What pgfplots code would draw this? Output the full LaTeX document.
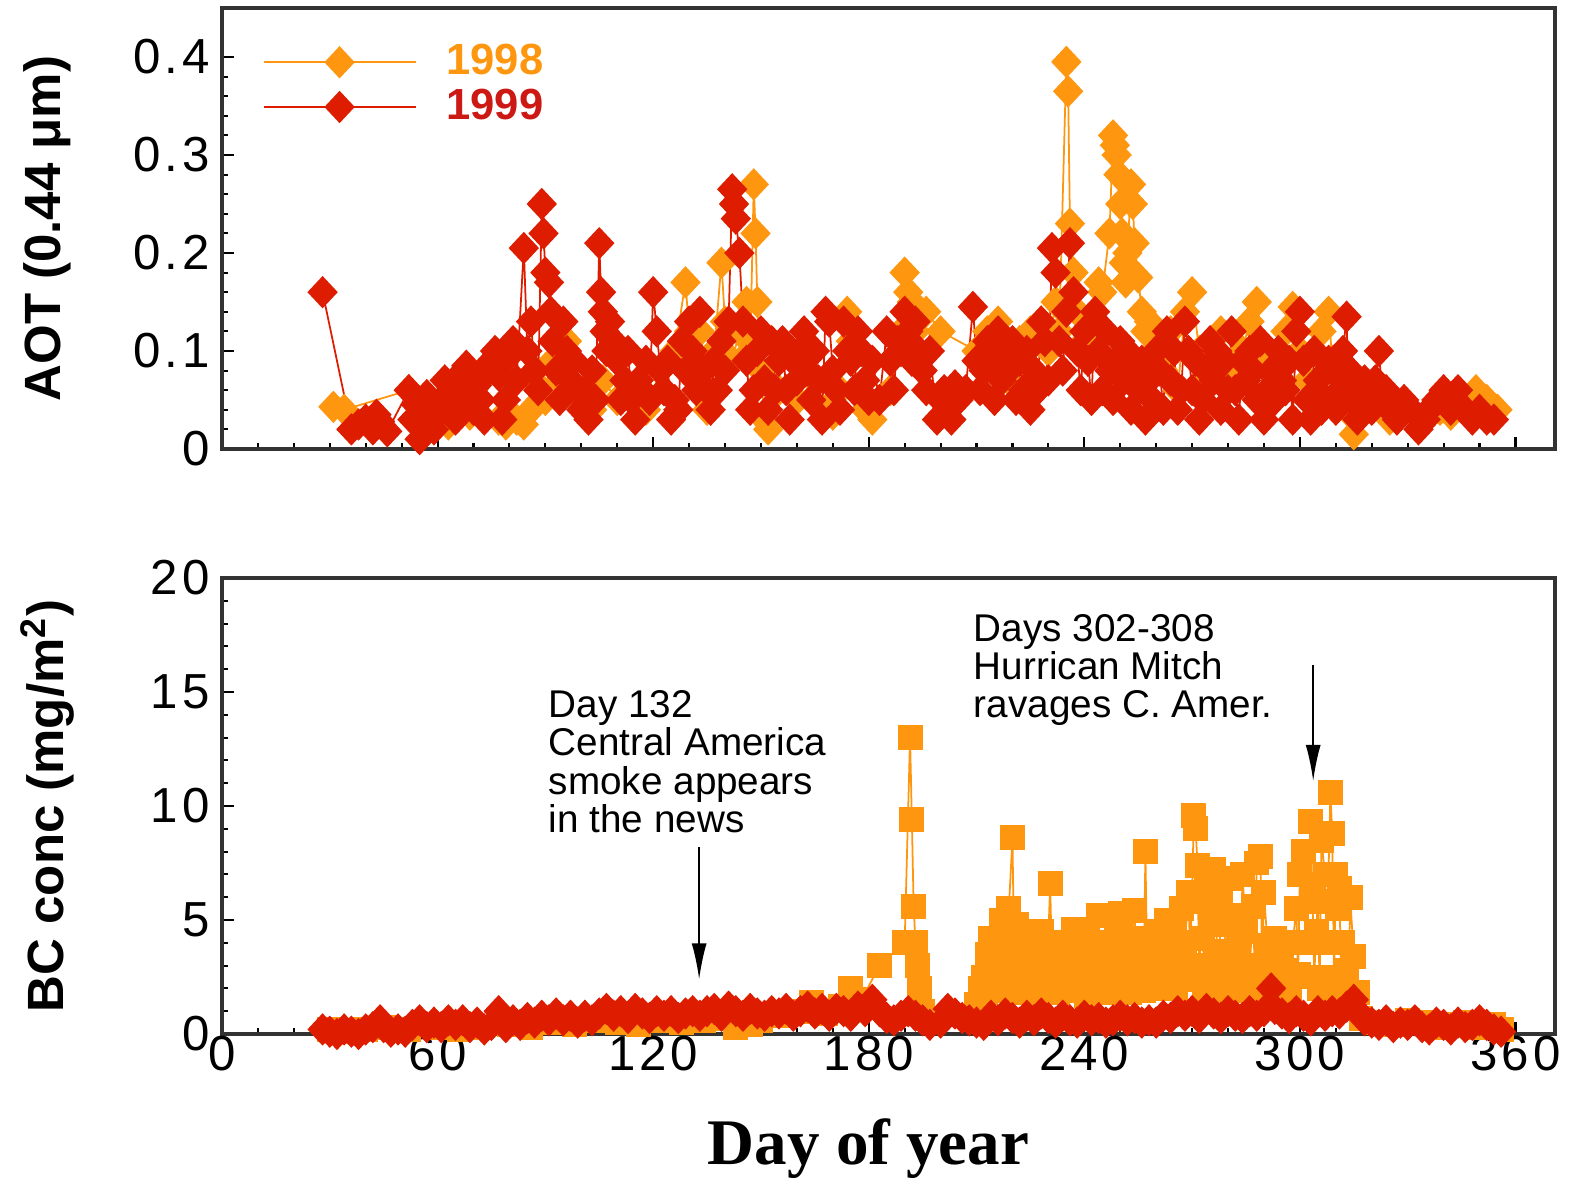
\documentclass[border=0pt]{standalone}
\usepackage{pgfplots}
\pgfplotsset{compat=1.18}
\usepackage{fontspec}
\setmainfont{Liberation Sans}
\newfontfamily\timesfont{Liberation Serif}
\newfontfamily\tickfont[LetterSpace=8]{Liberation Sans}
\usetikzlibrary{arrows.meta}
\definecolor{or98}{RGB}{255,150,15}
\definecolor{rd99}{RGB}{222,28,0}
\definecolor{rdtxt}{RGB}{205,25,20}
\pgfplotsset{
  myaxis/.style={
    scale only axis, width=13.33cm, xmin=0, xmax=371,
    xtick={0,60,120,180,240,300,360}, minor x tick num=5,
    tick pos=left, tick align=inside,
    major tick length=1.2mm, minor tick length=0.6mm,
    tick style={black, line width=0.6pt},
    axis line style={black!80, line width=0.9pt},
    /pgf/number format/assume math mode=true,
    tick label style={font=\tickfont\fontsize{14}{14}\selectfont},
    ylabel style={at={(axis description cs:-0.131,0.5)}, anchor=center, inner sep=0pt,
      font=\bfseries\fontsize{14.5}{14.5}\selectfont},
  },
  p98/.style={or98, line width=0.5pt, mark=diamond*, mark size=5.3pt,
    mark options={solid, fill=or98, draw=or98, yscale=0.8}},
  p99/.style={rd99, line width=0.5pt, mark=diamond*, mark size=5.3pt,
    mark options={solid, fill=rd99, draw=rd99, yscale=0.8}},
  s98/.style={or98, line width=0.5pt, mark=square*, mark size=3.3pt,
    mark options={solid, fill=or98, draw=or98}},
}
\begin{document}
\begin{tikzpicture}
\useasboundingbox (-2.22cm,-1.47cm) rectangle (13.56cm,10.34cm);
% ---------------- bottom panel ----------------
\begin{axis}[myaxis, at={(0,0)}, anchor=south west, height=4.56cm,
  ymin=0, ymax=20, ytick={0,5,10,15,20}, minor y tick num=4,
  xticklabel style={yshift=1mm},
  ylabel={BC conc (mg/m\textsuperscript{2})},
  xlabel={Day of year},
  xlabel style={at={(axis description cs:0.485,0)}, anchor=center, inner sep=0pt,
    yshift=-1.15cm, font=\timesfont\bfseries\fontsize{18.5}{18.5}\selectfont},
]
\addplot[s98] coordinates {
(30,0.2)(34,0.1)(40,0.2)(46,0.3)(52,0.2)(60,0.3)(66,0.2)(72,0.3)(80,0.4)(86,0.3)
(92,0.5)(98,0.4)(104,0.6)(110,0.5)(116,0.4)(122,0.6)(128,0.5)(134,0.6)(140,0.7)(143,0.3)
(145,0.9)(147,0.4)(150,0.6)(155,0.8)(160,1.0)(164,1.4)(168,0.9)(172,1.2)(175,2.0)(178,1.5)
(183,3.0)(190,4.0)(191.5,13.0)(192,9.4)(192.5,5.6)(193,4.0)(193.5,3.0)(194,2.0)(195,1.0)
(210,1.3)(211,2.0)(212,2.5)(212.5,1.8)(213,3.5)(214,4.2)(214.5,2.0)(215,2.8)(216,3.6)(216.5,1.9)
(217,5.0)(218,4.3)(218.5,2.2)(219,5.5)(220,8.6)(220.5,3.0)(221,4.8)(222,3.9)(222.5,1.8)(223,2.6)
(224,4.4)(224.5,2.0)(225,3.0)(226,2.2)(227,3.7)(227.5,1.7)(228,4.5)(229,2.9)(229.5,2.0)(230.5,6.6)
(231,3.0)(231.5,3.4)(232,2.6)(232.5,1.8)(233,4.0)(234,3.2)(234.5,2.1)(235,2.4)(236,3.8)(236.5,1.9)
(237,4.6)(238,3.0)(238.5,2.0)(239,2.2)(240,3.5)(240.5,1.7)(241,4.2)(242,2.8)(242.5,1.9)(243,3.6)
(244,5.2)(244.5,2.3)(245,3.3)(246,2.5)(246.5,1.8)(247,4.0)(248,3.1)(248.5,2.0)(249,4.8)(250,5.3)
(250.5,2.2)(251,3.6)(252,2.7)(252.5,1.8)(253,4.2)(254,5.4)(254.5,2.4)(255,3.4)(256,2.8)(256.5,1.9)
(257,8.0)(257.5,3.0)(258,4.1)(259,3.0)(259.5,2.0)(260,2.6)(261,4.5)(261.5,2.1)(262,3.5)(263,5.0)
(263.5,2.3)(264,3.2)(265,4.6)(265.5,2.0)(266,2.9)(267,5.5)(267.5,2.4)(268,4.0)(269,6.2)(269.5,3.0)
(270.5,9.6)(271,9.0)(271.5,7.4)(272,2.5)(272.5,5.8)(273,4.2)(273.5,2.0)(274,6.5)(275,5.0)(275.5,2.6)
(276,7.2)(277,3.6)(277.5,1.8)(278,6.0)(279,4.8)(279.5,2.2)(280,3.3)(281,6.8)(281.5,2.8)(282,5.2)
(283,3.8)(283.5,1.9)(284,7.0)(285,4.5)(285.5,2.4)(286,2.8)(287,5.6)(287.5,2.0)(288,7.5)(289,7.8)
(289.5,3.0)(290,6.2)(291,3.9)(291.5,2.2)(292,2.5)(293,4.2)(293.5,1.6)(294,1.5)(295,3.3)(296,2.8)
(297,2.0)(298,4.0)(299,5.5)(299.5,2.6)(300,7.0)(301,8.0)(301.5,4.0)(303,9.3)(303.5,6.0)(304,2.5)
(304.5,4.5)(305,5.8)(305.5,2.0)(306,8.5)(307,7.0)(307.5,4.0)(308.5,10.6)(309,8.8)(309.5,2.5)(310,7.0)
(310.5,5.5)(311,6.4)(311.5,2.0)(312,4.0)(313,2.8)(313.5,1.8)(314,6.0)(315,3.4)(316,1.8)(317,0.7)
(322,0.5)(326,0.4)(330,0.6)(334,0.5)(338,0.3)(342,0.4)(346,0.5)(350,0.3)(354,0.4)(356,0.2)
};
\addplot[p99] coordinates {
(28,0.2)(30,0.1)(32,0.0)(34,0.2)(36,0.1)(38,0.0)(40,0.2)(42,0.3)(44,0.6)(45,0.3)
(47,0.1)(49,0.2)(51,0.1)(53,0.4)(55,0.6)(57,0.3)(59,0.5)(61,0.3)(63,0.6)(65,0.4)
(67,0.6)(69,0.3)(71,0.5)(73,0.2)(75,0.4)(77,1.0)(79,0.3)(81,0.6)(83,0.4)(85,0.7)
(87,0.5)(89,0.8)(91,0.6)(93,0.9)(95,0.6)(97,0.8)(99,0.5)(101,0.8)(103,0.6)(105,0.9)
(107,1.1)(109,0.8)(111,1.0)(113,0.7)(115,1.1)(117,0.9)(119,0.7)(121,1.0)(123,0.8)(125,1.0)
(127,0.7)(129,0.9)(131,1.0)(133,0.8)(135,1.0)(137,1.1)(139,0.8)(141,1.2)(143,1.0)(145,0.8)
(147,1.1)(149,0.9)(151,0.8)(153,1.0)(155,0.9)(157,1.1)(159,0.8)(161,1.0)(163,1.2)(165,0.9)
(167,1.1)(169,0.8)(171,1.1)(173,1.0)(175,0.8)(177,1.2)(179,1.0)(181,1.5)(183,1.0)(185,0.7)
(187,0.6)(189,0.8)(191,1.0)(193,0.8)(195,0.6)(197,0.4)(200,0.5)(202,1.1)(204,0.9)(206,0.7)
(208,0.6)(210,0.5)(212,0.4)(214,0.8)(216,0.6)(218,0.9)(220,0.7)(222,0.5)(224,0.8)(226,0.6)
(228,0.9)(230,0.7)(232,0.5)(234,0.8)(236,0.6)(238,0.5)(240,0.8)(242,0.6)(244,0.7)(246,0.5)
(248,0.6)(250,0.8)(252,0.6)(254,0.7)(256,0.5)(258,0.6)(260,0.5)(262,0.8)(264,0.7)(266,1.0)
(268,0.8)(270,1.0)(272,0.7)(274,1.1)(276,0.9)(278,0.7)(280,1.0)(282,0.8)(284,0.7)(286,1.0)
(288,0.8)(290,1.0)(292,2.0)(293,1.1)(295,0.9)(297,0.7)(299,1.0)(301,0.8)(303,0.6)(305,1.0)
(307,0.8)(309,1.0)(311,0.9)(313,1.2)(315,1.5)(316,1.0)(318,0.6)(320,0.5)(322,0.4)(324,0.6)
(326,0.3)(328,0.5)(330,0.4)(332,0.6)(334,0.3)(336,0.2)(338,0.5)(340,0.4)(342,0.2)(344,0.5)
(346,0.3)(348,0.4)(350,0.6)(352,0.4)(354,0.2)(356,0.1)
};
\node[anchor=north west, inner sep=0pt, align=left, font=\fontsize{11}{10.9}\selectfont]
  at (axis cs:90.8,15.1) {Day 132\\Central America\\smoke appears\\in the news};
\draw[-{Latex[length=3.6mm,width=1.5mm]}, line width=0.5pt, black] (axis cs:132.8,8.2) -- (axis cs:132.8,2.4);
\node[anchor=north west, inner sep=0pt, align=left, font=\fontsize{11}{10.9}\selectfont]
  at (axis cs:209.1,18.44) {Days 302-308\\Hurrican Mitch\\ravages C. Amer.};
\draw[-{Latex[length=3.6mm,width=1.5mm]}, line width=0.5pt, black] (axis cs:303.7,16.2) -- (axis cs:303.7,11.1);
\end{axis}
% ---------------- top panel ----------------
\begin{axis}[myaxis, at={(0,5.85cm)}, anchor=south west, height=4.41cm,
  ymin=0, ymax=0.45, ytick={0,0.1,0.2,0.3,0.4}, minor y tick num=4,
  xticklabel=\empty,
  ylabel={AOT (0.44 μm)},
  legend style={draw=none, fill=none, at={(axis description cs:0.03,0.919)}, anchor=north west,
    inner sep=0pt, nodes={inner sep=0pt}, row sep=0.9mm, column sep=3mm,
    font=\bfseries\fontsize{12.4}{12.4}\selectfont},
  legend cell align=left,
  legend image code/.code={\draw[mark repeat=2,mark phase=2,#1] plot coordinates {(0cm,0cm) (0.76cm,0cm) (1.52cm,0cm)};},
]
\addplot[p98] coordinates {
(31,0.043)(34,0.040)(52,0.060)(58,0.040)(60,0.030)(63,0.025)(66,0.040)(69,0.035)(72,0.050)(77,0.030)
(79,0.025)(80,0.030)(82,0.030)(84,0.025)(86,0.040)(88,0.065)(90,0.050)(92,0.090)(94,0.070)(96,0.110)
(98,0.060)(100,0.050)(103,0.040)(106,0.070)(110,0.050)(114,0.060)(118,0.040)(122,0.080)(126,0.100)(129,0.170)
(130,0.120)(131,0.090)(133,0.120)(135,0.040)(137,0.100)(139,0.190)(140,0.130)(142,0.090)(144,0.120)(146,0.150)
(147,0.100)(148,0.270)(148.5,0.220)(149,0.150)(150,0.080)(151,0.030)(152,0.020)(155,0.060)(160,0.050)(165,0.070)
(168,0.040)(170,0.035)(172,0.060)(174,0.140)(175,0.110)(177,0.060)(179,0.040)(181,0.030)(186,0.060)(189,0.120)
(190,0.180)(191,0.160)(192,0.150)(193,0.120)(196,0.140)(200,0.120)(210,0.100)(213,0.120)(216,0.130)(218,0.090)
(219,0.070)(222,0.110)(225,0.120)(228,0.130)(230,0.100)(232,0.150)(233,0.120)(235,0.395)(235.5,0.365)(236,0.230)
(237,0.180)(238,0.140)(240,0.110)(242,0.130)(244,0.170)(245,0.160)(247,0.220)(248,0.320)(248.5,0.310)(249,0.300)
(249.5,0.280)(250,0.250)(250.5,0.220)(251,0.190)(251.5,0.170)(252,0.200)(253,0.270)(253.5,0.250)(254,0.210)(255,0.175)
(256,0.140)(257,0.120)(258,0.130)(260,0.100)(262,0.080)(264,0.120)(266,0.060)(268,0.140)(270,0.160)(272,0.100)
(274,0.070)(276,0.090)(278,0.120)(280,0.060)(282,0.080)(284,0.100)(286,0.130)(288,0.150)(290,0.090)(292,0.060)
(294,0.080)(296,0.120)(298,0.145)(300,0.100)(302,0.070)(304,0.100)(306,0.120)(308,0.140)(309,0.090)(311,0.050)
(313,0.040)(315,0.015)(318,0.040)(320,0.050)(325,0.030)(330,0.040)(335,0.030)(339,0.040)(342,0.035)(346,0.050)
(349,0.060)(352,0.050)(355,0.040)
};
\addlegendentry{\textcolor{or98}{1998}}
\addplot[p99] coordinates {
(28,0.160)(36,0.020)(38,0.025)(40,0.030)(42,0.020)(43,0.035)(44,0.028)(46,0.018)(52,0.060)(53,0.030)
(54,0.045)(55,0.010)(56,0.030)(57,0.055)(58,0.040)(59,0.020)(60,0.035)(61,0.050)(62,0.070)(63,0.040)
(64,0.060)(65,0.030)(66,0.075)(67,0.050)(68,0.085)(69,0.060)(70,0.040)(71,0.065)(72,0.050)(73,0.030)
(74,0.080)(75,0.090)(76,0.100)(77,0.075)(78,0.030)(79,0.050)(80,0.095)(81,0.110)(82,0.070)(84,0.205)
(85,0.100)(86,0.130)(87,0.080)(88,0.060)(89,0.250)(89.5,0.220)(90,0.180)(91,0.170)(91.5,0.140)(92,0.110)
(93,0.080)(94,0.050)(95,0.130)(96,0.100)(97,0.070)(98,0.090)(99,0.060)(100,0.040)(101,0.060)(102,0.030)
(103,0.080)(104,0.050)(105,0.210)(105.5,0.160)(106,0.140)(106.5,0.120)(107,0.100)(108,0.130)(109,0.110)(110,0.090)
(111,0.050)(112,0.070)(113,0.100)(114,0.050)(115,0.030)(116,0.070)(117,0.060)(118,0.090)(119,0.050)(120,0.160)
(121,0.120)(122,0.080)(123,0.060)(124,0.090)(125,0.030)(126,0.050)(127,0.040)(128,0.110)(129,0.080)(130,0.130)
(131,0.100)(132,0.060)(133,0.140)(134,0.080)(135,0.060)(136,0.040)(137,0.090)(138,0.060)(139,0.110)(140,0.080)
(141,0.130)(142,0.265)(142.5,0.250)(143,0.235)(144,0.200)(145,0.130)(146,0.090)(147,0.040)(148,0.060)(149,0.100)
(150,0.120)(151,0.070)(152,0.040)(153,0.110)(154,0.060)(155,0.090)(156,0.110)(157,0.060)(158,0.030)(159,0.090)
(160,0.070)(161,0.100)(162,0.120)(163,0.080)(164,0.050)(165,0.100)(166,0.070)(167,0.030)(168,0.140)(169,0.130)
(170,0.080)(171,0.060)(172,0.040)(173,0.130)(174,0.100)(175,0.090)(176,0.060)(177,0.120)(178,0.100)(179,0.070)
(180,0.050)(181,0.090)(183,0.050)(185,0.120)(186,0.090)(187,0.060)(188,0.110)(189,0.100)(190,0.140)(191,0.120)
(192,0.090)(193,0.130)(194,0.100)(195,0.080)(196,0.060)(197,0.100)(199,0.030)(200,0.050)(201,0.060)(202,0.040)
(203,0.030)(204,0.065)(205,0.050)(207,0.060)(209,0.145)(210,0.090)(211,0.060)(212,0.080)(213,0.110)(214,0.090)
(215,0.050)(216,0.120)(217,0.070)(218,0.100)(219,0.080)(220,0.110)(221,0.050)(222,0.090)(223,0.060)(224,0.100)
(225,0.040)(226,0.080)(227,0.060)(228,0.130)(229,0.110)(230,0.070)(231,0.205)(232,0.180)(233,0.110)(234,0.080)
(235,0.140)(236,0.210)(237,0.160)(238,0.100)(239,0.060)(240,0.120)(241,0.090)(242,0.050)(243,0.140)(244,0.100)
(245,0.060)(246,0.120)(247,0.080)(248,0.050)(249,0.090)(250,0.110)(251,0.070)(252,0.100)(253,0.040)(254,0.080)
(255,0.060)(256,0.090)(257,0.030)(258,0.070)(259,0.050)(260,0.100)(261,0.080)(262,0.040)(263,0.120)(264,0.070)
(265,0.100)(266,0.040)(267,0.060)(268,0.130)(269,0.100)(270,0.060)(271,0.090)(272,0.030)(273,0.050)(274,0.080)
(275,0.110)(276,0.070)(277,0.100)(278,0.040)(279,0.090)(280,0.060)(281,0.120)(282,0.060)(283,0.030)(284,0.090)
(285,0.070)(286,0.100)(287,0.080)(288,0.050)(289,0.110)(290,0.030)(291,0.060)(292,0.080)(293,0.050)(294,0.100)
(295,0.070)(296,0.060)(297,0.090)(298,0.030)(299,0.120)(300,0.140)(301,0.090)(302,0.050)(303,0.030)(304,0.100)
(305,0.070)(306,0.040)(307,0.050)(308,0.090)(309,0.080)(310,0.040)(311,0.060)(312,0.100)(313,0.135)(313.5,0.060)
(314,0.080)(315,0.050)(316,0.030)(317,0.040)(318,0.070)(319,0.060)(320,0.040)(321,0.070)(322,0.100)(323,0.050)
(324,0.060)(325,0.040)(326,0.050)(327,0.030)(329,0.050)(331,0.040)(333,0.020)(335,0.030)(336,0.040)(338,0.050)
(340,0.060)(342,0.040)(344,0.060)(346,0.040)(348,0.030)(350,0.040)(352,0.030)(354,0.030)
};
\addlegendentry{\textcolor{rdtxt}{1999}}
\end{axis}
\end{tikzpicture}
\end{document}
